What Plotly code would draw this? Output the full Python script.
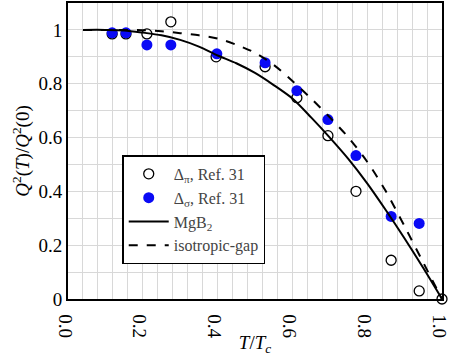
import plotly.graph_objects as go

# Data
pi_x = [0.118, 0.155, 0.211, 0.275, 0.396, 0.527, 0.612, 0.695, 0.770, 0.864, 0.939, 1.0]
pi_y = [0.985, 0.985, 0.985, 1.030, 0.900, 0.863, 0.748, 0.607, 0.400, 0.144, 0.030, 0.0]

sig_x = [0.118, 0.155, 0.211, 0.275, 0.398, 0.527, 0.612, 0.695, 0.770, 0.864, 0.939]
sig_y = [0.989, 0.989, 0.944, 0.944, 0.911, 0.878, 0.774, 0.667, 0.533, 0.307, 0.281]

mgb2_x = [0.04, 0.10, 0.15, 0.20, 0.25, 0.30, 0.35, 0.40, 0.45, 0.50, 0.55, 0.60, 0.65, 0.70, 0.75, 0.80, 0.85, 0.90, 0.95, 1.00]
mgb2_y = [1.0, 1.0, 0.998, 0.99, 0.98, 0.963, 0.938, 0.905, 0.876, 0.84, 0.795, 0.745, 0.675, 0.60, 0.52, 0.43, 0.33, 0.225, 0.115, 0.0]

iso_x = [0.04, 0.10, 0.15, 0.20, 0.25, 0.30, 0.35, 0.40, 0.45, 0.50, 0.55, 0.60, 0.65, 0.70, 0.75, 0.80, 0.85, 0.90, 0.95, 1.00]
iso_y = [1.0, 1.0, 1.0, 0.999, 0.995, 0.988, 0.98, 0.968, 0.945, 0.915, 0.87, 0.81, 0.745, 0.675, 0.60, 0.51, 0.40, 0.27, 0.135, 0.0]

# grid positions and tick labels (labels only every 0.2)
x_grid = [round(i * 0.04, 2) for i in range(26)]
x_labels = {0.0: "0.0", 0.2: "0.2", 0.4: "0.4", 0.6: "0.6", 0.8: "0.8", 1.0: "1.0"}
y_grid = [round(i * 0.1, 1) for i in range(12)]
y_labels = {0.0: "0", 0.2: "0.2", 0.4: "0.4", 0.6: "0.6", 0.8: "0.8", 1.0: "1"}

x_ticktext = [x_labels.get(v, " ") for v in x_grid]
y_ticktext = [y_labels.get(v, " ") for v in y_grid]

FONT = "Liberation Serif"

fig = go.Figure()
fig.add_trace(go.Scatter(
    x=pi_x, y=pi_y, mode="markers", name="Δ<sub>π</sub>, Ref. 31",
    marker=dict(symbol="circle", size=10, color="white", line=dict(color="black", width=1.3)),
    cliponaxis=False))
fig.add_trace(go.Scatter(
    x=sig_x, y=sig_y, mode="markers", name="Δ<sub>σ</sub>, Ref. 31",
    marker=dict(symbol="circle", size=11, color="#0a0af5", line=dict(width=0)),
    cliponaxis=False))
fig.add_trace(go.Scatter(
    x=mgb2_x, y=mgb2_y, mode="lines", name="MgB<sub>2</sub>",
    line=dict(color="black", width=2, shape="spline", smoothing=0.8)))
fig.add_trace(go.Scatter(
    x=iso_x, y=iso_y, mode="lines", name="isotropic-gap",
    line=dict(color="black", width=2, dash="dash", shape="spline", smoothing=0.8)))

grid_col = "#d8d8d8"
fig.update_layout(
    template="none",
    width=454, height=356,
    margin=dict(l=68, r=12, t=3, b=57),
    paper_bgcolor="white", plot_bgcolor="white",
    font=dict(family=FONT, size=17),
    showlegend=True,
    legend=dict(x=0.145, y=0.485, xanchor="left", yanchor="top",
                bgcolor="white", bordercolor="black", borderwidth=1.5,
                font=dict(family=FONT, size=16),
                tracegroupgap=0, itemwidth=40),
    xaxis=dict(range=[0, 1.0], tickmode="array", tickvals=x_grid, ticktext=x_ticktext,
               showgrid=True, gridcolor=grid_col, gridwidth=1,
               showline=True, linecolor="black", linewidth=2, mirror=True,
               ticks="", zeroline=False, automargin=False,
               tickfont=dict(family=FONT, size=19, color="black"),
               title=dict(text="<i>T</i>/<i>T</i><sub><i>c</i></sub>",
                          font=dict(family=FONT, size=19, color="black"), standoff=2)),
    yaxis=dict(range=[0, 1.1], tickmode="array", tickvals=y_grid, ticktext=y_ticktext,
               showgrid=True, gridcolor=grid_col, gridwidth=1,
               showline=True, linecolor="black", linewidth=2, mirror=True,
               ticks="", zeroline=False, automargin=False,
               tickfont=dict(family=FONT, size=19, color="black"),
               title=dict(text="<i>Q</i><sup>2</sup>(<i>T</i>)/<i>Q</i><sup>2</sup>(0)",
                          font=dict(family=FONT, size=19, color="black"), standoff=4)),
)

fig.write_html("out.html", config={"displayModeBar": False},
               post_script="document.body.style.margin='0px';")
